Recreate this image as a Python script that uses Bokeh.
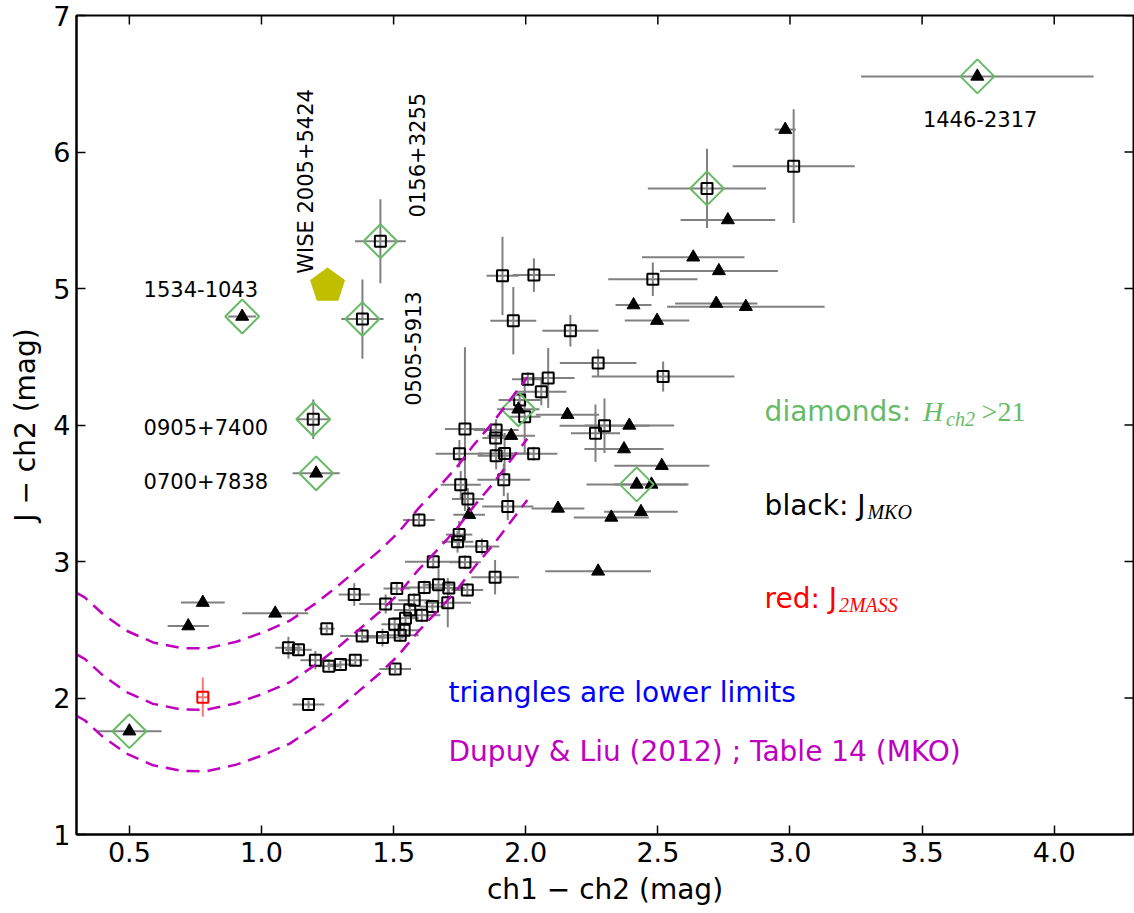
import numpy as np
from bokeh.plotting import figure
from bokeh.models import Range1d, FixedTicker, PrintfTickFormatter
from bokeh.core.properties import value
from bokeh.embed import file_html
from bokeh.resources import INLINE

# ---------------- data ----------------
XTICKS = [0.5, 1.0, 1.5, 2.0, 2.5, 3.0, 3.5, 4.0]
YTICKS = [1, 2, 3, 4, 5, 6, 7]

# measured J_MKO points (open squares)
SQ_X = [1.450, 1.382, 1.196, 1.912, 2.031, 1.953, 2.169, 2.274, 2.520, 2.481,
        3.014, 2.686, 2.008, 2.085, 2.059, 1.977, 1.996, 1.888, 1.886, 1.770,
        1.749, 1.888, 1.920, 2.030, 1.754, 1.917, 1.781, 1.932, 1.596, 1.748,
        1.742, 1.834, 1.650, 1.770, 1.884, 1.512, 1.616, 1.670, 1.709, 1.779,
        1.351, 1.470, 1.578, 1.561, 1.647, 1.705, 1.545, 1.607, 1.504, 1.540,
        1.525, 1.381, 1.458, 1.247, 1.102, 1.140, 1.204, 1.255, 1.299, 1.355,
        1.506, 1.178, 2.264, 2.298]
SQ_Y = [5.346, 4.776, 4.042, 5.093, 5.098, 4.764, 4.691, 4.455, 4.355, 5.068,
        5.896, 5.733, 4.335, 4.345, 4.244, 4.183, 4.060, 3.963, 3.905, 3.970,
        3.790, 3.775, 3.792, 3.790, 3.563, 3.599, 3.458, 3.403, 3.304, 3.197,
        3.145, 3.110, 2.998, 2.995, 2.885, 2.802, 2.810, 2.830, 2.805, 2.792,
        2.758, 2.689, 2.716, 2.645, 2.670, 2.698, 2.585, 2.606, 2.540, 2.496,
        2.460, 2.455, 2.443, 2.508, 2.368, 2.353, 2.277, 2.233, 2.245, 2.277,
        2.213, 1.952, 3.940, 3.995]
SQ_XERR = [0.096, 0.080, 0.064, 0.060, 0.080, 0.087, 0.106, 0.145, 0.270, 0.169,
           0.231, 0.224, 0.060, 0.100, 0.095, 0.080, 0.060, 0.085, 0.050, 0.076,
           0.090, 0.070, 0.100, 0.090, 0.076, 0.100, 0.060, 0.097, 0.060, 0.050,
           0.060, 0.066, 0.107, 0.060, 0.090, 0.050, 0.080, 0.060, 0.060, 0.060,
           0.059, 0.100, 0.060, 0.060, 0.050, 0.088, 0.050, 0.070, 0.050, 0.060,
           0.070, 0.083, 0.080, 0.030, 0.050, 0.050, 0.057, 0.040, 0.050, 0.050,
           0.060, 0.060, 0.093, 0.170]
SQ_YERR = [0.307, 0.290, 0.145, 0.287, 0.123, 0.247, 0.116, 0.100, 0.110, 0.123,
           0.417, 0.290, 0.050, 0.220, 0.100, 0.050, 0.270, 0.080, 0.120, 0.600,
           0.100, 0.100, 0.150, 0.050, 0.100, 0.120, 0.080, 0.100, 0.050, 0.100,
           0.080, 0.060, 0.050, 0.050, 0.126, 0.050, 0.050, 0.120, 0.050, 0.050,
           0.083, 0.070, 0.050, 0.050, 0.050, 0.180, 0.050, 0.050, 0.050, 0.050,
           0.050, 0.050, 0.065, 0.030, 0.080, 0.040, 0.067, 0.030, 0.030, 0.040,
           0.030, 0.030, 0.210, 0.200]

# lower limits (filled triangles)
TRI_X = [0.927, 1.207, 0.500, 0.778, 0.723, 1.052, 3.709, 2.982, 2.765, 2.634,
         2.731, 2.408, 2.721, 2.833, 2.497, 2.158, 2.392, 2.372, 2.515, 2.420,
         2.476, 2.122, 2.324, 2.436, 2.274, 1.972, 1.945, 1.786]
TRI_Y = [4.795, 3.646, 1.757, 2.699, 2.527, 2.620, 6.554, 6.164, 5.502, 5.229,
         5.129, 4.879, 4.890, 4.867, 4.765, 4.076, 3.997, 3.824, 3.702, 3.565,
         3.565, 3.389, 3.323, 3.364, 2.928, 4.115, 3.922, 3.343]
TRI_XERR = [0.053, 0.089, 0.122, 0.083, 0.078, 0.125, 0.440, 0.040, 0.179, 0.194,
            0.223, 0.068, 0.156, 0.298, 0.122, 0.120, 0.170, 0.150, 0.180, 0.190,
            0.140, 0.100, 0.142, 0.139, 0.200, 0.080, 0.090, 0.060]

# J_2MASS point (red)
RED_X = [0.778]
RED_Y = [2.006]
RED_XERR = [0.02]
RED_YERR = [0.144]

# objects with H_ch2 > 21 (green diamonds)
DIA_X = [1.450, 1.382, 1.196, 0.927, 1.207, 0.500, 3.709, 2.686, 2.420, 1.972]
DIA_Y = [5.346, 4.776, 4.042, 4.795, 3.646, 1.757, 6.554, 5.733, 3.565, 4.115]

# WISE 2005+5424 (pentagon)
PENT_X = [1.250]
PENT_Y = [5.020]

# Dupuy & Liu (2012) Table 14 relation (central curve), and its rms
DL_X = [0.300, 0.331, 0.400, 0.489, 0.590, 0.697, 0.791, 0.905, 1.006, 1.107,
        1.201, 1.283, 1.365, 1.447, 1.517, 1.592, 1.668, 1.737, 1.806, 1.876,
        1.939, 2.006]
DL_Y = [2.320, 2.287, 2.165, 2.043, 1.957, 1.916, 1.913, 1.962, 2.031, 2.116,
        2.238, 2.361, 2.495, 2.630, 2.760, 2.935, 3.090, 3.236, 3.410, 3.570,
        3.730, 3.900]
DL_RMS = 0.45

# object names
NAME_TEXT = ["1534-1043", "0905+7400", "0700+7838", "1446-2317",
             "WISE 2005+5424", "0156+3255", "0505-5913"]
NAME_X = [0.554, 0.554, 0.554, 3.503, 1.170, 1.589, 1.572]
NAME_Y = [4.996, 3.987, 3.591, 6.243, 5.108, 5.521, 4.141]
NAME_ANGLE = [0, 0, 0, 0, 90, 90, 90]

# ---------------- styling ----------------
WIDTH, HEIGHT = 1134, 913
BL, BR, BT, BB = 76, 1, 15, 79
FRAME_W, FRAME_H = WIDTH - BL - BR, HEIGHT - BT - BB
X0, X1, Y0, Y1 = 0.3, 4.3, 1.0, 7.0
PXX = FRAME_W / (X1 - X0)
PXY = FRAME_H / (Y1 - Y0)
TICK_LEN = 9

GREEN = "#66bb66"
MAGENTA = "#bf00bf"
GREY = "#808080"
FONT = "DejaVu Sans"
SERIF = "Liberation Serif"

p = figure(width=WIDTH, height=HEIGHT,
           x_range=Range1d(X0, X1), y_range=Range1d(Y0, Y1),
           output_backend="svg", toolbar_location=None,
           min_border_left=BL, min_border_right=BR, min_border_top=BT,
           min_border_bottom=BB)
p.grid.visible = False
p.outline_line_color = "black"
p.outline_line_width = 2

for ax in (p.xaxis[0], p.yaxis[0]):
    ax.major_tick_in = TICK_LEN
    ax.major_tick_out = 0
    ax.minor_tick_line_color = None
    ax.major_tick_line_width = 1.5
    ax.axis_line_width = 2
    ax.major_label_text_font = FONT
    ax.major_label_text_font_size = "27px"
    ax.major_label_text_color = "black"
    ax.axis_label_text_font = FONT
    ax.axis_label_text_font_size = "28px"
    ax.axis_label_text_font_style = "normal"
    ax.axis_label_text_color = "black"

p.xaxis.ticker = FixedTicker(ticks=XTICKS)
p.xaxis.formatter = PrintfTickFormatter(format="%.1f")
p.yaxis.ticker = FixedTicker(ticks=YTICKS)
p.yaxis.formatter = PrintfTickFormatter(format="%d")
p.xaxis.axis_label = "ch1 \u2212 ch2 (mag)"
p.yaxis.axis_label = "J \u2212 ch2 (mag)"
p.xaxis.major_label_standoff = 7
p.xaxis.axis_label_standoff = 8
p.yaxis.major_label_standoff = 6
p.yaxis.axis_label_standoff = 8

# ticks on the top and right frame edges (inward), from the tick lists
xt = np.array(XTICKS, dtype=float)
yt = np.array(YTICKS, dtype=float)
p.segment(x0=xt, y0=np.full(len(xt), Y1), x1=xt, y1=np.full(len(xt), Y1 - TICK_LEN / PXY),
          line_color="black", line_width=1.5)
p.segment(x0=np.full(len(yt), X1), y0=yt, x1=np.full(len(yt), X1 - TICK_LEN / PXX), y1=yt,
          line_color="black", line_width=1.5)

# ---------------- error bars ----------------
sx, sy = np.array(SQ_X), np.array(SQ_Y)
sxe, sye = np.array(SQ_XERR), np.array(SQ_YERR)
tx, ty, txe = np.array(TRI_X), np.array(TRI_Y), np.array(TRI_XERR)

p.segment(x0=sx - sxe, y0=sy, x1=sx + sxe, y1=sy, line_color=GREY, line_width=2)
p.segment(x0=sx, y0=sy - sye, x1=sx, y1=sy + sye, line_color=GREY, line_width=2)
p.segment(x0=tx - txe, y0=ty, x1=tx + txe, y1=ty, line_color=GREY, line_width=2)

rx, ry = np.array(RED_X), np.array(RED_Y)
p.segment(x0=rx - np.array(RED_XERR), y0=ry, x1=rx + np.array(RED_XERR), y1=ry,
          line_color="#f47a7a", line_width=2)
p.segment(x0=rx, y0=ry - np.array(RED_YERR), x1=rx, y1=ry + np.array(RED_YERR),
          line_color="#f47a7a", line_width=2)

# ---------------- markers ----------------
p.scatter(sx, sy, marker="square", size=11, fill_color=None,
          line_color="black", line_width=2)
p.scatter(tx, ty, marker="triangle", size=13, fill_color="black",
          line_color="black", line_width=1)
p.scatter(rx, ry, marker="square", size=11, fill_color=None,
          line_color="red", line_width=2)
p.scatter(DIA_X, DIA_Y, marker="square", angle=np.pi / 4, size=24,
          fill_color=None, line_color=GREEN, line_width=2)

# pentagon (circumradius in screen px)
R_PENT = 17.8
ang = np.deg2rad(90 + 72 * np.arange(5))
pxs = [list(cx + R_PENT * np.cos(ang) / PXX) for cx in PENT_X]
pys = [list(cy + R_PENT * np.sin(ang) / PXY) for cy in PENT_Y]
p.patches(pxs, pys, fill_color="#bfbf00", line_color="#bfbf00", line_width=1)

# ---------------- Dupuy & Liu curves ----------------
dlx, dly = np.array(DL_X), np.array(DL_Y)
for off in (DL_RMS, 0.0, -DL_RMS):
    p.line(dlx, dly + off, line_color=MAGENTA, line_width=2.5, line_dash="13 8")

# ---------------- texts ----------------
p.text(x=NAME_X, y=NAME_Y, text=NAME_TEXT, angle=list(np.deg2rad(NAME_ANGLE)),
       text_font=value(FONT), text_font_size="21px", text_color="black",
       text_align="left", text_baseline="alphabetic")


def piece(x, y, dx_px, dy_px, txt, font, size, style, color):
    p.text(x=[x + dx_px / PXX], y=[y - dy_px / PXY], text=[txt],
           text_font=value(font), text_font_size=size, text_font_style=style,
           text_color=color, text_align="left", text_baseline="alphabetic")


NOTE_X = 2.904
piece(NOTE_X, 4.097, 0, 0, "diamonds: ", FONT, "28px", "normal", GREEN)
piece(NOTE_X, 4.097, 158.5, 0, "H", SERIF, "28px", "italic", GREEN)
piece(NOTE_X, 4.097, 181.5, 7, "ch2", SERIF, "20px", "italic", GREEN)
piece(NOTE_X, 4.097, 217.0, 0, ">21", SERIF, "28px", "normal", GREEN)

piece(NOTE_X, 3.413, 0, 0, "black: J", FONT, "28px", "normal", "black")
piece(NOTE_X, 3.413, 102.8, 7, "MKO", SERIF, "20px", "italic", "black")

piece(NOTE_X, 2.731, 0, 0, "red: J", FONT, "28px", "normal", "red")
piece(NOTE_X, 2.731, 74.3, 7, "2MASS", SERIF, "20px", "italic", "red")

piece(1.708, 2.039, 0, 0, "triangles are lower limits", FONT, "28px", "normal", "blue")
piece(1.708, 1.611, 0, 0, "Dupuy & Liu (2012) ; Table 14 (MKO)", FONT, "28px",
      "normal", MAGENTA)

open("out.html", "w").write(file_html(p, INLINE))
